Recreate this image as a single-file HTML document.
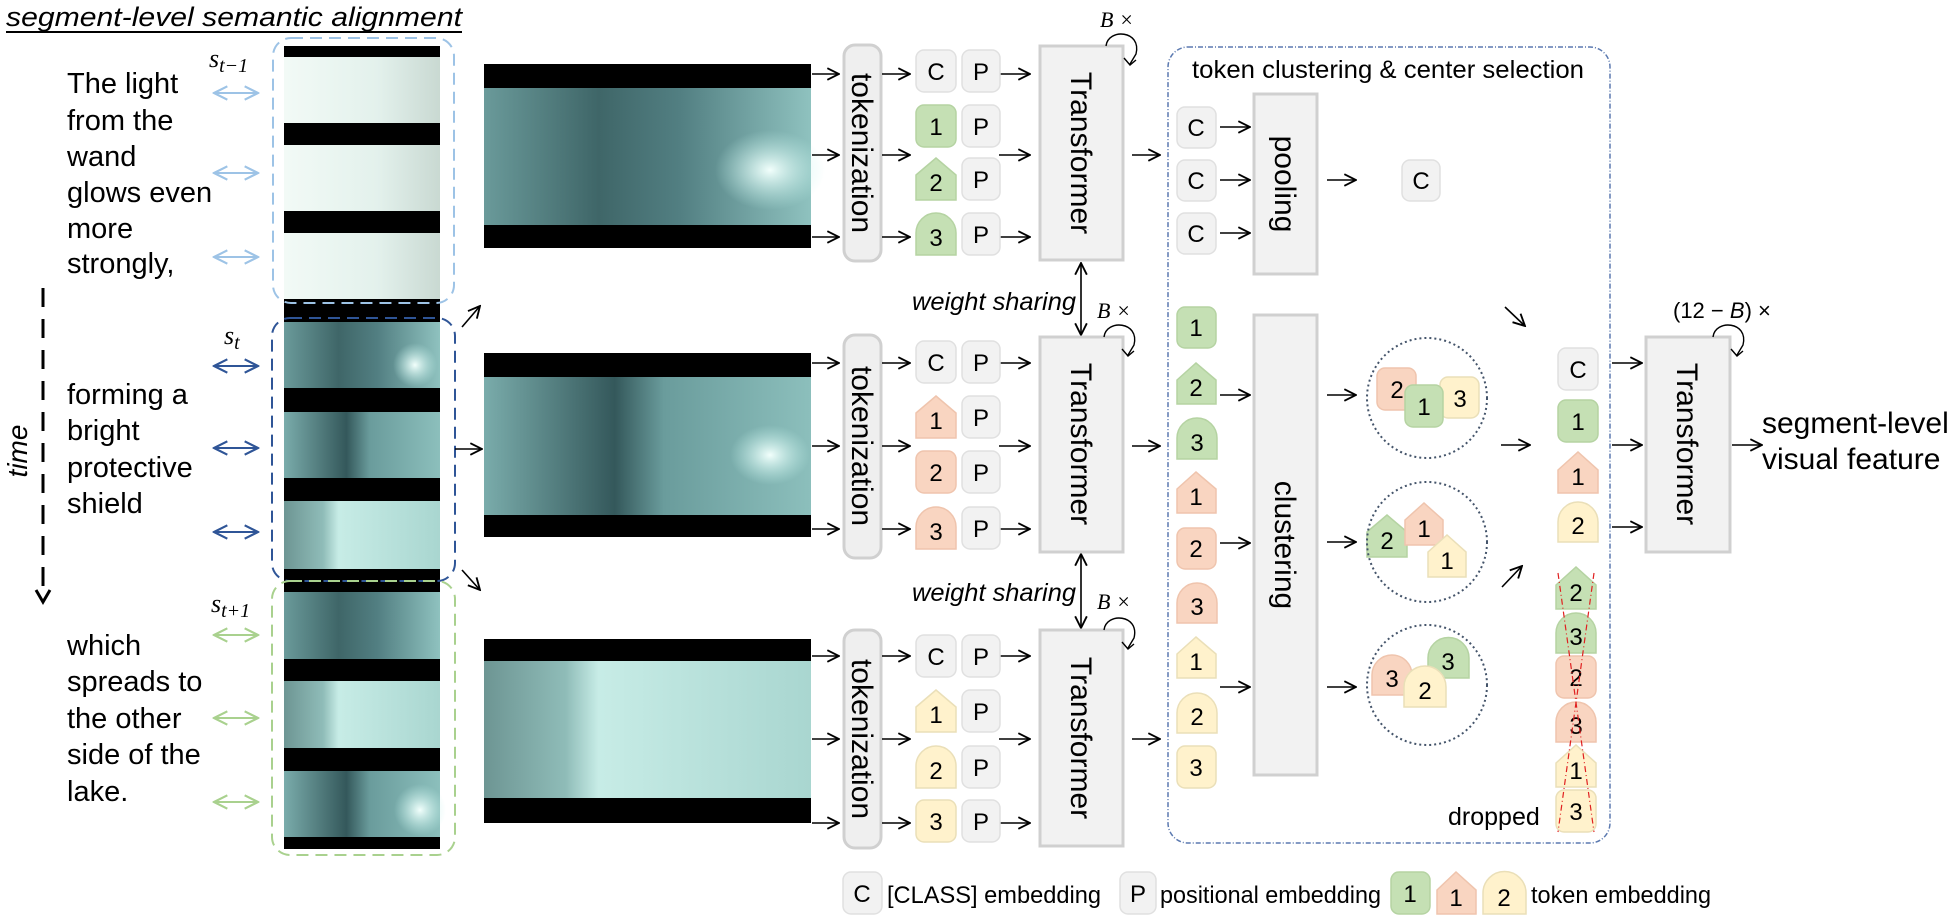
<!DOCTYPE html>
<html><head><meta charset="utf-8"><style>
html,body{margin:0;padding:0;background:#fff;}
svg{display:block;}
text{font-family:"Liberation Sans",Arial,sans-serif;fill:#000;}
.s{font-family:"Liberation Serif",serif;font-style:italic;}
.tk{font-size:24px;text-anchor:middle;}
</style></head><body>
<svg width="1956" height="920" viewBox="0 0 1956 920" xmlns="http://www.w3.org/2000/svg">
<defs>
<marker id="a" viewBox="0 0 12 12" refX="11" refY="6" markerWidth="14" markerHeight="14" markerUnits="userSpaceOnUse" orient="auto-start-reverse"><path d="M1,1 L11,6 L1,11" fill="none" stroke="#000" stroke-width="1.6"/></marker>
<marker id="lb" viewBox="0 0 12 12" refX="11" refY="6" markerWidth="16" markerHeight="16" markerUnits="userSpaceOnUse" orient="auto-start-reverse"><path d="M1,1 L11,6 L1,11" fill="none" stroke="#9dc3e6" stroke-width="1.6"/></marker>
<marker id="db" viewBox="0 0 12 12" refX="11" refY="6" markerWidth="16" markerHeight="16" markerUnits="userSpaceOnUse" orient="auto-start-reverse"><path d="M1,1 L11,6 L1,11" fill="none" stroke="#2f5597" stroke-width="1.6"/></marker>
<marker id="gr" viewBox="0 0 12 12" refX="11" refY="6" markerWidth="16" markerHeight="16" markerUnits="userSpaceOnUse" orient="auto-start-reverse"><path d="M1,1 L11,6 L1,11" fill="none" stroke="#a9d18e" stroke-width="1.6"/></marker>
<linearGradient id="f1" x1="0" x2="1" y1="0" y2="0"><stop offset="0" stop-color="#6a9a9a"/><stop offset="0.35" stop-color="#3f6668"/><stop offset="0.6" stop-color="#527f82"/><stop offset="1" stop-color="#8fc2bf"/></linearGradient>
<linearGradient id="f2" x1="0" x2="1" y1="0" y2="0"><stop offset="0" stop-color="#7aacab"/><stop offset="0.4" stop-color="#34585b"/><stop offset="0.55" stop-color="#6a9c9c"/><stop offset="1" stop-color="#8cbfbc"/></linearGradient>
<linearGradient id="f3" x1="0" x2="1" y1="0" y2="0"><stop offset="0" stop-color="#6d9593"/><stop offset="0.25" stop-color="#8fbcb8"/><stop offset="0.35" stop-color="#c7ece6"/><stop offset="1" stop-color="#a9d6d0"/></linearGradient>
<linearGradient id="lf" x1="0" x2="1" y1="0" y2="0"><stop offset="0" stop-color="#f2faf6"/><stop offset="0.6" stop-color="#e3f1ec"/><stop offset="1" stop-color="#c9d9d2"/></linearGradient>
<radialGradient id="glow"><stop offset="0" stop-color="#f2fffc"/><stop offset="1" stop-color="#c0f0ea" stop-opacity="0"/></radialGradient>
</defs>

<!-- title -->
<text x="6" y="26" font-size="27" font-style="italic" textLength="456" lengthAdjust="spacingAndGlyphs">segment-level semantic alignment</text>
<line x1="6" y1="32" x2="462" y2="32" stroke="#000" stroke-width="2"/>

<!-- left texts -->
<g font-size="29">
<text x="67" y="93">The light</text><text x="67" y="130">from the</text><text x="67" y="166">wand</text><text x="67" y="202">glows even</text><text x="67" y="238">more</text><text x="67" y="273">strongly,</text>
<text x="67" y="404">forming a</text><text x="67" y="440">bright</text><text x="67" y="477">protective</text><text x="67" y="513">shield</text>
<text x="67" y="655">which</text><text x="67" y="691">spreads to</text><text x="67" y="728">the other</text><text x="67" y="764">side of the</text><text x="67" y="801">lake.</text>
</g>
<!-- time -->
<line x1="43" y1="288" x2="43" y2="598" stroke="#000" stroke-width="3" stroke-dasharray="19,12"/>
<path d="M36,590 L43,602 L50,590" fill="none" stroke="#000" stroke-width="3"/>
<text x="0" y="0" font-size="28" font-style="italic" text-anchor="middle" transform="translate(27,451) rotate(-90)">time</text>

<!-- s labels -->
<text class="s" x="209" y="67" font-size="26">s<tspan font-size="20" dy="5">t−1</tspan></text>
<text class="s" x="224" y="344" font-size="26">s<tspan font-size="20" dy="5">t</tspan></text>
<text class="s" x="211" y="612" font-size="26">s<tspan font-size="20" dy="5">t+1</tspan></text>
<g stroke-width="2">
<line x1="214" y1="93" x2="258" y2="93" stroke="#9dc3e6" marker-start="url(#lb)" marker-end="url(#lb)"/>
<line x1="214" y1="173" x2="258" y2="173" stroke="#9dc3e6" marker-start="url(#lb)" marker-end="url(#lb)"/>
<line x1="214" y1="257" x2="258" y2="257" stroke="#9dc3e6" marker-start="url(#lb)" marker-end="url(#lb)"/>
<line x1="214" y1="366" x2="258" y2="366" stroke="#2f5597" marker-start="url(#db)" marker-end="url(#db)"/>
<line x1="214" y1="448" x2="258" y2="448" stroke="#2f5597" marker-start="url(#db)" marker-end="url(#db)"/>
<line x1="214" y1="532" x2="258" y2="532" stroke="#2f5597" marker-start="url(#db)" marker-end="url(#db)"/>
<line x1="214" y1="635" x2="258" y2="635" stroke="#a9d18e" marker-start="url(#gr)" marker-end="url(#gr)"/>
<line x1="214" y1="718" x2="258" y2="718" stroke="#a9d18e" marker-start="url(#gr)" marker-end="url(#gr)"/>
<line x1="214" y1="802" x2="258" y2="802" stroke="#a9d18e" marker-start="url(#gr)" marker-end="url(#gr)"/>
</g>

<!-- frame strip -->
<g>
<rect x="284" y="46" width="156" height="803" fill="#000"/>
<rect x="284" y="57" width="156" height="66" fill="url(#lf)"/>
<rect x="284" y="145" width="156" height="66" fill="url(#lf)"/>
<rect x="284" y="233" width="156" height="66" fill="url(#lf)"/>
<rect x="284" y="322" width="156" height="66" fill="url(#f1)"/>
<rect x="284" y="412" width="156" height="66" fill="url(#f2)"/>
<rect x="284" y="501" width="156" height="68" fill="url(#f3)"/>
<rect x="284" y="592" width="156" height="67" fill="url(#f1)"/>
<rect x="284" y="681" width="156" height="67" fill="url(#f3)"/>
<rect x="284" y="771" width="156" height="66" fill="url(#f2)"/>
<circle cx="415" cy="365" r="22" fill="url(#glow)"/>
<circle cx="420" cy="810" r="26" fill="url(#glow)"/>
</g>
<rect x="273" y="38" width="181" height="265" rx="18" fill="none" stroke="#9dc3e6" stroke-width="2" stroke-dasharray="12,7"/>
<rect x="272" y="318" width="183" height="263" rx="18" fill="none" stroke="#2f5597" stroke-width="2" stroke-dasharray="12,7"/>
<rect x="272" y="581" width="183" height="274" rx="18" fill="none" stroke="#a9d18e" stroke-width="2" stroke-dasharray="12,7"/>

<g stroke="#000" stroke-width="1.6" marker-end="url(#a)">
<line x1="462" y1="327" x2="480" y2="306"/>
<line x1="455" y1="449" x2="482" y2="449"/>
<line x1="462" y1="570" x2="480" y2="590"/>
</g>

<!-- big frames -->
<rect x="484" y="64" width="327" height="184" fill="#000"/>
<rect x="484" y="88" width="327" height="137" fill="url(#f1)"/>
<ellipse cx="770" cy="170" rx="55" ry="40" fill="url(#glow)"/>
<rect x="484" y="353" width="327" height="184" fill="#000"/>
<rect x="484" y="377" width="327" height="138" fill="url(#f2)"/>
<ellipse cx="770" cy="455" rx="40" ry="30" fill="url(#glow)"/>
<rect x="484" y="639" width="327" height="184" fill="#000"/>
<rect x="484" y="661" width="327" height="137" fill="url(#f3)"/>

<!-- tokenization boxes -->
<g fill="#efefef" stroke="#d0d0d0" stroke-width="3">
<rect x="844" y="45" width="37" height="216" rx="11"/>
<rect x="844" y="335" width="37" height="223" rx="11"/>
<rect x="844" y="630" width="37" height="218" rx="11"/>
</g>
<g font-size="30" text-anchor="middle">
<text transform="translate(852,153) rotate(90)">tokenization</text>
<text transform="translate(852,446) rotate(90)">tokenization</text>
<text transform="translate(852,739) rotate(90)">tokenization</text>
</g>

<!-- arrows rows -->
<g stroke="#000" stroke-width="1.6" marker-end="url(#a)">
<line x1="812" y1="74" x2="839" y2="74"/><line x1="812" y1="155" x2="839" y2="155"/><line x1="812" y1="237" x2="839" y2="237"/>
<line x1="812" y1="363" x2="839" y2="363"/><line x1="812" y1="446" x2="839" y2="446"/><line x1="812" y1="529" x2="839" y2="529"/>
<line x1="812" y1="656" x2="839" y2="656"/><line x1="812" y1="739" x2="839" y2="739"/><line x1="812" y1="823" x2="839" y2="823"/>
<line x1="882" y1="74" x2="910" y2="74"/><line x1="882" y1="155" x2="910" y2="155"/><line x1="882" y1="237" x2="910" y2="237"/>
<line x1="882" y1="363" x2="910" y2="363"/><line x1="882" y1="446" x2="910" y2="446"/><line x1="882" y1="529" x2="910" y2="529"/>
<line x1="882" y1="656" x2="910" y2="656"/><line x1="882" y1="739" x2="910" y2="739"/><line x1="882" y1="823" x2="910" y2="823"/>
<line x1="999" y1="74" x2="1030" y2="74"/><line x1="999" y1="155" x2="1030" y2="155"/><line x1="999" y1="237" x2="1030" y2="237"/>
<line x1="999" y1="363" x2="1030" y2="363"/><line x1="999" y1="446" x2="1030" y2="446"/><line x1="999" y1="529" x2="1030" y2="529"/>
<line x1="999" y1="656" x2="1030" y2="656"/><line x1="999" y1="739" x2="1030" y2="739"/><line x1="999" y1="823" x2="1030" y2="823"/>
<line x1="1132" y1="155" x2="1160" y2="155"/><line x1="1132" y1="446" x2="1160" y2="446"/><line x1="1132" y1="739" x2="1160" y2="739"/>
<line x1="1220" y1="127" x2="1250" y2="127"/><line x1="1220" y1="180" x2="1250" y2="180"/><line x1="1220" y1="233" x2="1250" y2="233"/>
<line x1="1327" y1="180" x2="1356" y2="180"/>
<line x1="1220" y1="395" x2="1250" y2="395"/><line x1="1220" y1="543" x2="1250" y2="543"/><line x1="1220" y1="687" x2="1250" y2="687"/>
<line x1="1327" y1="395" x2="1356" y2="395"/><line x1="1327" y1="542" x2="1356" y2="542"/><line x1="1327" y1="687" x2="1356" y2="687"/>
<line x1="1505" y1="307" x2="1525" y2="326"/><line x1="1501" y1="445" x2="1530" y2="445"/><line x1="1502" y1="587" x2="1522" y2="566"/>
<line x1="1612" y1="363" x2="1642" y2="363"/><line x1="1612" y1="445" x2="1642" y2="445"/><line x1="1612" y1="527" x2="1642" y2="527"/>
<line x1="1732" y1="445" x2="1762" y2="445"/>
<line x1="1081" y1="263" x2="1081" y2="335" marker-start="url(#a)"/>
<line x1="1081" y1="554" x2="1081" y2="628" marker-start="url(#a)"/>
</g>

<!-- C/P boxes -->
<g fill="#f2f2f2" stroke="#e0e0e0" stroke-width="1.5">
<rect x="916" y="50" width="40" height="42" rx="8"/><rect x="962" y="50" width="38" height="42" rx="8"/>
<rect x="962" y="105" width="38" height="42" rx="8"/><rect x="962" y="158" width="38" height="42" rx="8"/><rect x="962" y="213" width="38" height="42" rx="8"/>
<rect x="916" y="341" width="40" height="42" rx="8"/><rect x="962" y="341" width="38" height="42" rx="8"/>
<rect x="962" y="396" width="38" height="42" rx="8"/><rect x="962" y="451" width="38" height="42" rx="8"/><rect x="962" y="507" width="38" height="42" rx="8"/>
<rect x="916" y="635" width="40" height="42" rx="8"/><rect x="962" y="635" width="38" height="42" rx="8"/>
<rect x="962" y="690" width="38" height="42" rx="8"/><rect x="962" y="746" width="38" height="42" rx="8"/><rect x="962" y="800" width="38" height="42" rx="8"/>
<rect x="1177" y="107" width="39" height="41" rx="8"/><rect x="1177" y="160" width="39" height="41" rx="8"/><rect x="1177" y="213" width="39" height="41" rx="8"/>
<rect x="1402" y="160" width="38" height="41" rx="8"/>
<rect x="1558" y="348" width="40" height="42" rx="8"/>
<rect x="843" y="872" width="39" height="42" rx="8"/>
<rect x="1120" y="872" width="36" height="42" rx="8"/>
</g>
<g class="tk" font-size="24">
<text class="tk" x="936" y="80">C</text><text class="tk" x="981" y="80">P</text>
<text class="tk" x="981" y="135">P</text><text class="tk" x="981" y="188">P</text><text class="tk" x="981" y="243">P</text>
<text class="tk" x="936" y="371">C</text><text class="tk" x="981" y="371">P</text>
<text class="tk" x="981" y="426">P</text><text class="tk" x="981" y="481">P</text><text class="tk" x="981" y="537">P</text>
<text class="tk" x="936" y="665">C</text><text class="tk" x="981" y="665">P</text>
<text class="tk" x="981" y="720">P</text><text class="tk" x="981" y="776">P</text><text class="tk" x="981" y="830">P</text>
<text class="tk" x="1196" y="136">C</text><text class="tk" x="1196" y="189">C</text><text class="tk" x="1196" y="242">C</text>
<text class="tk" x="1421" y="189">C</text>
<text class="tk" x="1578" y="378">C</text>
<text class="tk" x="862" y="902">C</text>
<text class="tk" x="1138" y="902">P</text>
</g>

<!-- colored tokens: square rect, pentagon, arch -->
<g stroke-width="1.5">
<!-- top row green -->
<rect x="916" y="105" width="40" height="42" rx="8" fill="#c5e0b4" stroke="#b5d3a2"/>
<polygon points="916,175 936,158 956,175 956,200 916,200" fill="#c5e0b4" stroke="#b5d3a2"/>
<path d="M916,255 V233 A20,20 0 0 1 956,233 V255 Z" fill="#c5e0b4" stroke="#b5d3a2"/>
<!-- mid salmon -->
<polygon points="916,413 936,396 956,413 956,438 916,438" fill="#f9d5c1" stroke="#efc4ad"/>
<rect x="916" y="451" width="40" height="42" rx="8" fill="#f9d5c1" stroke="#efc4ad"/>
<path d="M916,549 V527 A20,20 0 0 1 956,527 V549 Z" fill="#f9d5c1" stroke="#efc4ad"/>
<!-- bottom yellow -->
<polygon points="916,707 936,690 956,707 956,732 916,732" fill="#fff2cc" stroke="#eadfb8"/>
<path d="M916,788 V766 A20,20 0 0 1 956,766 V788 Z" fill="#fff2cc" stroke="#eadfb8"/>
<rect x="916" y="800" width="40" height="42" rx="8" fill="#fff2cc" stroke="#eadfb8"/>
<!-- cluster column -->
<rect x="1177" y="307" width="39" height="41" rx="8" fill="#c5e0b4" stroke="#b5d3a2"/>
<polygon points="1177,380 1196,363 1216,380 1216,404 1177,404" fill="#c5e0b4" stroke="#b5d3a2"/>
<path d="M1177,459 V438 A20,20 0 0 1 1217,438 V459 Z" fill="#c5e0b4" stroke="#b5d3a2"/>
<polygon points="1177,489 1196,472 1216,489 1216,513 1177,513" fill="#f9d5c1" stroke="#efc4ad"/>
<rect x="1177" y="528" width="39" height="41" rx="8" fill="#f9d5c1" stroke="#efc4ad"/>
<path d="M1177,623 V603 A20,20 0 0 1 1217,603 V623 Z" fill="#f9d5c1" stroke="#efc4ad"/>
<polygon points="1177,654 1196,637 1216,654 1216,678 1177,678" fill="#fff2cc" stroke="#eadfb8"/>
<path d="M1177,733 V713 A20,20 0 0 1 1217,713 V733 Z" fill="#fff2cc" stroke="#eadfb8"/>
<rect x="1177" y="746" width="39" height="42" rx="8" fill="#fff2cc" stroke="#eadfb8"/>
<!-- circle 1 -->
<rect x="1377" y="368" width="39" height="42" rx="8" fill="#f9d5c1" stroke="#efc4ad"/>
<rect x="1440" y="377" width="39" height="41" rx="8" fill="#fff2cc" stroke="#eadfb8"/>
<rect x="1405" y="385" width="38" height="42" rx="8" fill="#c5e0b4" stroke="#b5d3a2"/>
<!-- circle 2 -->
<polygon points="1367,532 1387,515 1407,532 1407,557 1367,557" fill="#c5e0b4" stroke="#b5d3a2"/>
<polygon points="1405,520 1424,503 1443,520 1443,545 1405,545" fill="#f9d5c1" stroke="#efc4ad"/>
<polygon points="1428,552 1447,535 1466,552 1466,577 1428,577" fill="#fff2cc" stroke="#eadfb8"/>
<!-- circle 3 -->
<path d="M1372,695 V675 A20,20 0 0 1 1412,675 V695 Z" fill="#f9d5c1" stroke="#efc4ad"/>
<path d="M1428,678 V658 A20,20 0 0 1 1469,658 V678 Z" fill="#c5e0b4" stroke="#b5d3a2"/>
<path d="M1404,707 V687 A21,21 0 0 1 1446,687 V707 Z" fill="#fff2cc" stroke="#eadfb8"/>
<!-- final column -->
<rect x="1558" y="400" width="40" height="42" rx="8" fill="#c5e0b4" stroke="#b5d3a2"/>
<polygon points="1558,470 1578,452 1598,470 1598,493 1558,493" fill="#f9d5c1" stroke="#efc4ad"/>
<path d="M1558,542 V522 A20,20 0 0 1 1598,522 V542 Z" fill="#fff2cc" stroke="#eadfb8"/>
<!-- dropped -->
<polygon points="1556,585 1576,567 1596,585 1596,609 1556,609" fill="#c5e0b4" stroke="#b5d3a2"/>
<path d="M1556,653 V633 A20,20 0 0 1 1596,633 V653 Z" fill="#c5e0b4" stroke="#b5d3a2"/>
<rect x="1556" y="656" width="40" height="42" rx="8" fill="#f9d5c1" stroke="#efc4ad"/>
<path d="M1556,742 V722 A20,20 0 0 1 1596,722 V742 Z" fill="#f9d5c1" stroke="#efc4ad"/>
<polygon points="1556,763 1576,745 1596,763 1596,787 1556,787" fill="#fff2cc" stroke="#eadfb8"/>
<rect x="1556" y="790" width="40" height="42" rx="8" fill="#fff2cc" stroke="#eadfb8"/>
<!-- legend -->
<rect x="1391" y="872" width="39" height="42" rx="8" fill="#c5e0b4" stroke="#b5d3a2"/>
<polygon points="1437,890 1456,872 1476,890 1476,914 1437,914" fill="#f9d5c1" stroke="#efc4ad"/>
<path d="M1483,914 V893 A21,21 0 0 1 1526,893 V914 Z" fill="#fff2cc" stroke="#eadfb8"/>
</g>
<g font-size="24" text-anchor="middle">
<text x="936" y="135">1</text><text x="936" y="191">2</text><text x="936" y="246">3</text>
<text x="936" y="429">1</text><text x="936" y="481">2</text><text x="936" y="540">3</text>
<text x="936" y="723">1</text><text x="936" y="779">2</text><text x="936" y="830">3</text>
<text x="1196" y="336">1</text><text x="1196" y="396">2</text><text x="1197" y="451">3</text>
<text x="1196" y="505">1</text><text x="1196" y="557">2</text><text x="1197" y="615">3</text>
<text x="1196" y="670">1</text><text x="1197" y="725">2</text><text x="1196" y="776">3</text>
<text x="1397" y="398">2</text><text x="1424" y="415">1</text><text x="1460" y="407">3</text>
<text x="1387" y="549">2</text><text x="1424" y="537">1</text><text x="1447" y="569">1</text>
<text x="1392" y="687">3</text><text x="1448" y="670">3</text><text x="1425" y="699">2</text>
<text x="1578" y="430">1</text><text x="1578" y="485">1</text><text x="1578" y="534">2</text>
<text x="1576" y="601">2</text><text x="1576" y="645">3</text><text x="1576" y="686">2</text><text x="1576" y="734">3</text><text x="1576" y="779">1</text><text x="1576" y="820">3</text>
<text x="1410" y="902">1</text><text x="1456" y="906">1</text><text x="1504" y="906">2</text>
</g>
<g stroke="#e02020" stroke-width="1.2" stroke-dasharray="6,3,1,3" fill="none">
<line x1="1558" y1="573" x2="1594" y2="832"/>
<line x1="1594" y1="573" x2="1558" y2="832"/>
</g>

<!-- Transformers -->
<g fill="#f2f2f2" stroke="#d0d0d0" stroke-width="3">
<rect x="1040" y="46" width="83" height="214"/>
<rect x="1040" y="337" width="83" height="215"/>
<rect x="1040" y="630" width="83" height="216"/>
<rect x="1646" y="337" width="84" height="215"/>
<rect x="1254" y="94" width="63" height="180"/>
<rect x="1254" y="315" width="63" height="460"/>
</g>
<g font-size="30" text-anchor="middle">
<text transform="translate(1071,153) rotate(90)">Transformer</text>
<text transform="translate(1071,444) rotate(90)">Transformer</text>
<text transform="translate(1071,738) rotate(90)">Transformer</text>
<text transform="translate(1677,444) rotate(90)">Transformer</text>
<text transform="translate(1275,184) rotate(90)">pooling</text>
<text transform="translate(1275,545) rotate(90)">clustering</text>
</g>

<!-- loops -->
<g fill="none" stroke="#000" stroke-width="1.4">
<path d="M1106,46 C1108,28 1142,30 1136,54 L1130,64"/><path d="M1124,58 L1130,65 L1136,60"/>
<path d="M1104,337 C1106,319 1140,321 1134,345 L1128,355"/><path d="M1122,349 L1128,356 L1134,351"/>
<path d="M1104,630 C1106,612 1140,614 1134,638 L1128,648"/><path d="M1122,642 L1128,649 L1134,644"/>
<path d="M1713,337 C1715,319 1749,321 1743,345 L1737,355"/><path d="M1731,349 L1737,356 L1743,351"/>
</g>
<text class="s" x="1100" y="27" font-size="22">B ×</text>
<text class="s" x="1097" y="318" font-size="22">B ×</text>
<text class="s" x="1097" y="609" font-size="22">B ×</text>
<text x="1673" y="318" font-size="22" font-family="Liberation Serif,serif">(12 − <tspan font-style="italic">B</tspan>) ×</text>
<text x="912" y="601" font-size="25" font-style="italic" textLength="164" lengthAdjust="spacingAndGlyphs">weight sharing</text>
<text x="912" y="310" font-size="25" font-style="italic" textLength="164" lengthAdjust="spacingAndGlyphs">weight sharing</text>

<!-- cluster box -->
<rect x="1168" y="47" width="442" height="796" rx="20" fill="none" stroke="#5b79b0" stroke-width="1.5" stroke-dasharray="5,2,1,2"/>
<text x="1192" y="78" font-size="25" textLength="392" lengthAdjust="spacingAndGlyphs">token clustering &amp; center selection</text>
<g fill="none" stroke="#44546a" stroke-width="2" stroke-dasharray="2,3">
<circle cx="1427" cy="398" r="60"/><circle cx="1427" cy="542" r="60"/><circle cx="1427" cy="685" r="60"/>
</g>
<text x="1448" y="825" font-size="25">dropped</text>

<text x="1762" y="433" font-size="30">segment-level</text>
<text x="1762" y="469" font-size="30">visual feature</text>

<!-- legend text -->
<text x="887" y="903" font-size="24" textLength="214" lengthAdjust="spacingAndGlyphs">[CLASS] embedding</text>
<text x="1160" y="903" font-size="24" textLength="221" lengthAdjust="spacingAndGlyphs">positional embedding</text>
<text x="1531" y="903" font-size="24" textLength="180" lengthAdjust="spacingAndGlyphs">token embedding</text>
</svg>
</body></html>
